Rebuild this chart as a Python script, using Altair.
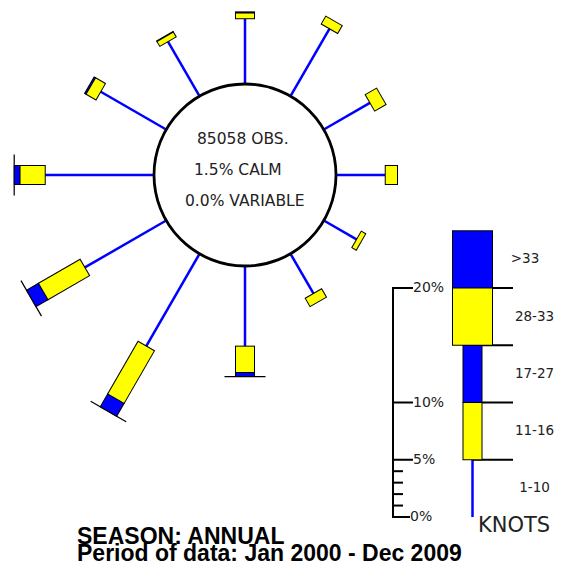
import math
import altair as alt
import pandas as pd

# ---------------- data (percent of observations) ----------------
directions = [0, 30, 60, 90, 120, 150, 180, 210, 240, 270, 300, 330]
pct_1_10  = [5.7, 6.8, 4.65, 4.3, 3.3, 4.0, 7.0, 9.3, 8.2, 9.5, 6.6, 5.5]
pct_11_16 = [0.5, 0.8, 1.15, 1.07, 0.45, 0.85, 2.3, 5.3, 4.2, 2.2, 1.0, 0.5]
pct_17_27 = [0.1, 0.0, 0.0, 0.0, 0.0, 0.0, 0.35, 1.3, 1.2, 0.5, 0.15, 0.05]
pct_28_33 = [0, 0, 0, 0, 0, 0, 0.02, 0.02, 0.02, 0.02, 0, 0]
pct_gt33  = [0, 0, 0, 0, 0, 0, 0, 0, 0, 0, 0, 0]

speed_classes = ["1-10", "11-16", "17-27", "28-33", ">33"]
legend_bounds = [0, 5, 10, 15, 20, 25]
scale_major = [0, 5, 10, 20]
scale_major_labels = ["0%", "5%", "10%", "20%"]
scale_minor = [1, 2, 3, 4]
center_lines = ["85058 OBS.", "1.5% CALM", "0.0% VARIABLE"]
title_lines = ["SEASON: ANNUAL", "Period of data: Jan 2000 - Dec 2009"]

# ---------------- layout / style ----------------
W, H = 546, 558
xs = alt.Scale(domain=[8, 8 + W], nice=False, zero=False)
ys = alt.Scale(domain=[8, 8 + H], nice=False, zero=False, reverse=True)
CX, CY, R = 245, 175, 91
K = 11.45                      # px per percent
LX, LY0 = 472.5, 517           # legend bar centre x, 0% y
AX = 393                       # legend scale axis x
BLUE, YELLOW = "#0000FF", "#FFFF00"
class_color = [BLUE, YELLOW, BLUE, YELLOW, BLUE]
class_width = [2.5, 18, 18, 39, 39]
EPS = 0.5

series = [pct_1_10, pct_11_16, pct_17_27, pct_28_33, pct_gt33]

lines, outlines, fills = [], [], []


def seg(ox, oy, sx, sy, a, b, c, w):
    return dict(x=ox + a * sx, y=oy + a * sy, x2=ox + b * sx, y2=oy + b * sy, c=c, w=w)


def add_stack(ox, oy, sx, sy, r0, vals):
    r1 = r0 + vals[0] * K
    lines.append(seg(ox, oy, sx, sy, r0, r1, class_color[0], class_width[0]))
    cum = r1
    for k in range(1, 5):
        v = vals[k]
        if v <= 0:
            continue
        a, b = cum, cum + v * K
        outlines.append(seg(ox, oy, sx, sy, a - EPS, b + EPS, "black", class_width[k] + 2))
        if b - a > 2 * EPS:
            fills.append(seg(ox, oy, sx, sy, a + EPS, b - EPS, class_color[k], class_width[k]))
        cum = b


for i, d in enumerate(directions):
    th = math.radians(d)
    add_stack(CX, CY, math.sin(th), -math.cos(th), R, [s[i] for s in series])

# legend bar (same scale)
leg_vals = [legend_bounds[k + 1] - legend_bounds[k] for k in range(5)]
add_stack(LX, LY0, 0, -1, 0, leg_vals)

# legend scale lines
scale_lines = [dict(x=AX, y=LY0, x2=AX, y2=LY0 - 20 * K, c="black", w=2)]
for t in scale_major:
    scale_lines.append(dict(x=AX - 1, y=LY0 - t * K, x2=AX + (17 if t == 0 else 20), y2=LY0 - t * K, c="black", w=2))
for t in scale_minor:
    scale_lines.append(dict(x=AX - 1, y=LY0 - t * K, x2=AX + 10, y2=LY0 - t * K, c="black", w=2))
for b in legend_bounds[1:5]:
    scale_lines.append(dict(x=LX, y=LY0 - b * K, x2=513, y2=LY0 - b * K, c="black", w=2))


def rules(rows):
    return alt.Chart(pd.DataFrame(rows)).mark_rule(strokeCap="butt").encode(
        x=alt.X("x:Q", scale=xs, axis=None),
        y=alt.Y("y:Q", scale=ys, axis=None),
        x2="x2:Q",
        y2="y2:Q",
        color=alt.Color("c:N", scale=None),
        strokeWidth=alt.StrokeWidth("w:Q", scale=None),
    )


circle = alt.Chart(pd.DataFrame({"x": [CX], "y": [CY]})).mark_point(
    shape="circle", size=(2 * R) ** 2, filled=False, stroke="black", strokeWidth=2.8, opacity=1
).encode(x=alt.X("x:Q", scale=xs, axis=None), y=alt.Y("y:Q", scale=ys, axis=None))


def texts(rows, **kw):
    return alt.Chart(pd.DataFrame(rows)).mark_text(**kw).encode(
        x=alt.X("x:Q", scale=xs, axis=None),
        y=alt.Y("y:Q", scale=ys, axis=None),
        text="t:N",
    )


center_df = [dict(x=x, y=y, t=t) for x, y, t in zip([197, 194, 185], [144, 175, 206], center_lines)]
center_txt = texts(center_df, align="left", baseline="alphabetic", font="DejaVu Sans",
                   fontSize=15.5, color="#222222")

scale_df = [dict(x=AX + (17 if t == 0 else 20), y=LY0 - t * K, t=l) for t, l in zip(scale_major, scale_major_labels)]
scale_txt = texts(scale_df, align="left", baseline="middle", font="DejaVu Sans", fontSize=14,
                  color="#222222")

lab_x = [534.5, 534.5, 534.5, 534.5, 525]
class_df = [dict(x=lab_x[k], y=LY0 - (legend_bounds[k] + legend_bounds[k + 1]) / 2 * K, t=speed_classes[k])
            for k in range(5)]
class_txt = texts(class_df, align="center", baseline="middle", font="DejaVu Sans", fontSize=13.5,
                  color="#222222")

knots_txt = texts([dict(x=478, y=532, t="KNOTS")], align="left", baseline="alphabetic",
                  font="DejaVu Sans", fontSize=21, color="#222222")

title_df = [dict(x=77, y=y, t=t) for y, t in zip([544, 561], title_lines)]
title_txt = texts(title_df, align="left", baseline="alphabetic", font="Liberation Sans",
                  fontSize=23, fontWeight="bold", color="black")

chart = alt.layer(
    rules(lines), circle, rules(scale_lines), rules(outlines), rules(fills),
    center_txt, scale_txt, class_txt, knots_txt, title_txt,
).properties(
    width=W, height=H, padding=0, autosize=alt.AutoSizeParams(type="none")
).configure_view(stroke=None)

chart.save("out.html", embed_options={"renderer": "svg", "actions": False})
